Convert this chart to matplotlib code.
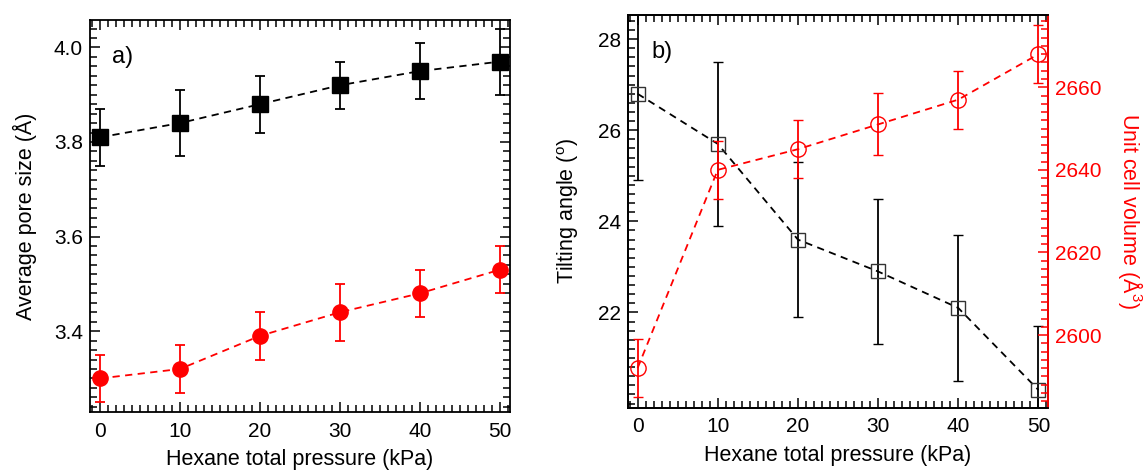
import matplotlib
matplotlib.use("Agg")
import matplotlib.pyplot as plt
from matplotlib.ticker import MultipleLocator, FormatStrFormatter

plt.rcParams['font.family'] = ['Liberation Sans', 'DejaVu Sans']
plt.rcParams['mathtext.fontset'] = 'custom'
plt.rcParams['mathtext.rm'] = 'Liberation Sans'

pressure = [0, 10, 20, 30, 40, 50]

# Panel a)
pore_black = [3.81, 3.84, 3.88, 3.92, 3.95, 3.97]
pore_black_err = [0.06, 0.07, 0.06, 0.05, 0.06, 0.07]
pore_red = [3.30, 3.32, 3.39, 3.44, 3.48, 3.53]
pore_red_err = [0.05, 0.05, 0.05, 0.06, 0.05, 0.05]

# Panel b)
tilt = [26.8, 25.7, 23.6, 22.9, 22.1, 20.3]
tilt_err = [1.9, 1.8, 1.7, 1.6, 1.6, 1.4]
volume = [2592, 2640, 2645, 2651, 2657, 2668]
volume_err = [7, 7, 7, 7.5, 7, 7]

W, H = 1148, 473
fig = plt.figure(figsize=(W / 100, H / 100), dpi=100)

def px_axes(x0, y0, x1, y1):
    return fig.add_axes([x0 / W, 1 - y1 / H, (x1 - x0) / W, (y1 - y0) / H])

tick_fs = 15
label_fs = 15.5
RED = '#ff0000'

def style_axes(ax):
    for s in ax.spines.values():
        s.set_linewidth(1.3)
    ax.tick_params(which='both', direction='in', top=True, labelsize=tick_fs, width=1.1)
    ax.tick_params(which='major', length=7.5, pad=5)
    ax.tick_params(which='minor', length=5)
    ax.tick_params(axis='x', which='major', pad=7)

# ---- Panel a ----
ax1 = px_axes(90, 20, 510, 412)
ax1.errorbar(pressure, pore_black, yerr=pore_black_err, fmt='s', color='black',
             ms=11, capsize=3.5, elinewidth=1.3, capthick=1.3, zorder=3)
ax1.plot(pressure, pore_black, '--', color='black', lw=1.3, dashes=(4, 3), zorder=2)
ax1.errorbar(pressure, pore_red, yerr=pore_red_err, fmt='o', color=RED,
             ms=11, capsize=3.5, elinewidth=1.3, capthick=1.3, zorder=3)
ax1.plot(pressure, pore_red, '--', color=RED, lw=1.3, dashes=(4, 3), zorder=2)
ax1.set_xlim(-1.25, 51.25)
ax1.set_ylim(3.229, 4.058)
ax1.xaxis.set_major_locator(MultipleLocator(10))
ax1.xaxis.set_minor_locator(MultipleLocator(1))
ax1.yaxis.set_major_locator(MultipleLocator(0.2))
ax1.yaxis.set_minor_locator(MultipleLocator(0.02))
ax1.yaxis.set_major_formatter(FormatStrFormatter('%.1f'))
style_axes(ax1)
ax1.tick_params(which='both', right=True, left=True)
ax1.set_xlabel('Hexane total pressure (kPa)', fontsize=label_fs, labelpad=6)
ax1.set_ylabel('Average pore size (Å)', fontsize=label_fs, labelpad=12)
ax1.text(0.052, 0.905, 'a)', transform=ax1.transAxes, fontsize=17, va='center')

# ---- Panel b ----
ax2 = px_axes(628, 15, 1048, 407.7)
ax2.errorbar(pressure, tilt, yerr=tilt_err, fmt='s', color='black', mfc='none',
             mec='#333333', mew=1.0, ms=10.5, capsize=3.5, elinewidth=1.3,
             capthick=1.3, zorder=3)
ax2.plot(pressure, tilt, '--', color='black', lw=1.3, dashes=(4, 3), zorder=2)
ax2.set_xlim(-1.2, 51.2)
ax2.set_ylim(19.91, 28.53)
ax2.xaxis.set_major_locator(MultipleLocator(10))
ax2.xaxis.set_minor_locator(MultipleLocator(1))
ax2.yaxis.set_major_locator(MultipleLocator(2))
ax2.yaxis.set_minor_locator(MultipleLocator(0.2))
style_axes(ax2)
ax2.set_yticks([22, 24, 26, 28])
ax2.set_xlabel('Hexane total pressure (kPa)', fontsize=label_fs, labelpad=6)
ax2.set_ylabel('Tilting angle ($^\\mathrm{o}$)', fontsize=label_fs, labelpad=12)
ax2.text(0.055, 0.905, 'b)', transform=ax2.transAxes, fontsize=17, va='center')

ax3 = ax2.twinx()
ax3.errorbar(pressure, volume, yerr=volume_err, fmt='o', color=RED, mfc='none',
             mew=1.0, ms=11, capsize=3.5, elinewidth=1.3, capthick=1.3, zorder=3)
ax3.plot(pressure, volume, '--', color=RED, lw=1.3, dashes=(4, 3), zorder=2)
ax3.set_ylim(2582.4, 2677.5)
ax3.yaxis.set_major_locator(MultipleLocator(20))
ax3.yaxis.set_minor_locator(MultipleLocator(2))
for s in ax3.spines.values():
    s.set_linewidth(1.3)
ax3.spines['right'].set_color(RED)
ax3.tick_params(which='both', direction='in', labelsize=tick_fs, width=1.1,
                colors=RED)
ax3.tick_params(which='major', length=7.5, pad=5)
ax3.tick_params(which='minor', length=5)
ax3.set_ylabel('Unit cell volume (Å$^3$)', fontsize=label_fs, color=RED,
               rotation=270, labelpad=31)

fig.savefig('out.png', dpi=100)
